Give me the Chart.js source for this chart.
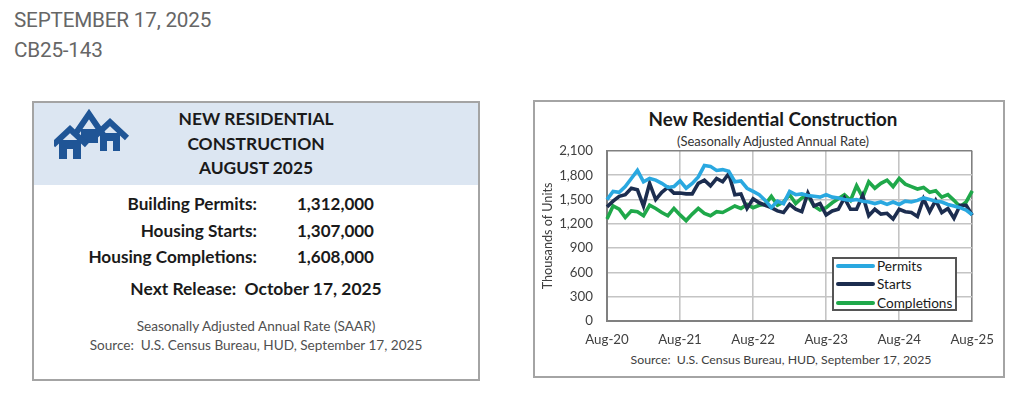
<!DOCTYPE html>
<html><head><meta charset="utf-8">
<script src="https://cdn.jsdelivr.net/npm/chart.js@4.4.1/dist/chart.umd.min.js"></script>
<style>
body{margin:0;background:#fff;width:1024px;height:410px;overflow:hidden;position:relative;font-family:Roboto,sans-serif}
.a{position:absolute}
#d1{left:14px;top:8px;font-size:20.7px;color:#666;letter-spacing:-0.2px}
#d2{left:14px;top:38px;font-size:20.7px;color:#666;letter-spacing:-0.2px}
#box{left:32px;top:101px;width:444px;height:276px;border:2px solid #a4a4a4;background:#fff}
#hdr{left:0;top:0;width:444px;height:82px;background:#dce6f2}
.ht{position:absolute;left:0;width:444px;text-align:center;font-family:Lato,sans-serif;font-weight:bold;font-size:17.4px;color:#1a1a1a}
.lb{position:absolute;right:221px;font-family:Lato,sans-serif;font-weight:bold;font-size:17.2px;color:#1a1a1a;white-space:nowrap}
.vl{position:absolute;left:263px;font-family:Lato,sans-serif;font-weight:bold;font-size:17px;color:#1a1a1a}
.ct{position:absolute;left:0;width:444px;text-align:center;font-family:Lato,sans-serif;white-space:nowrap}
#cbox{left:533px;top:100px;width:468px;height:274px;border:2px solid #a4a4a4;background:#fff}
#ctitle{left:533px;top:107px;width:480px;text-align:center;font-family:Lato,sans-serif;font-weight:bold;font-size:18.8px;color:#1a1a1a}
#csub{left:533px;top:133px;width:480px;text-align:center;font-family:Lato,sans-serif;font-size:13px;color:#333}
#csrc{left:545px;top:352px;width:472px;text-align:center;font-family:Lato,sans-serif;font-size:12.3px;color:#404040}
#cv{left:535px;top:129px}
#leg{left:832px;top:257px;width:121px;height:50px;border:2px solid #555;background:#fff;font-family:Lato,sans-serif;font-size:13.6px;color:#1a1a1a;overflow:hidden}
.li{position:absolute;left:2px;height:18px;display:flex;align-items:center;white-space:nowrap}
.ls{width:39px;height:4px;border-radius:2px;margin-right:2px}
</style></head><body>
<div class="a" id="d1">SEPTEMBER 17, 2025</div>
<div class="a" id="d2">CB25-143</div>

<div class="a" id="box">
  <div class="a" id="hdr">
    <svg class="a" style="left:20px;top:4px" width="78" height="56" viewBox="0 0 78 56">
      <g fill="#1f5596" stroke="#1f5596">
        <polyline points="20,29 35,7 50,29" fill="none" stroke-width="6" stroke-linejoin="miter"/>
        <rect x="27" y="22" width="17" height="14" stroke="none"/>
        <polyline points="39,31 56,15 73,31" fill="none" stroke-width="6"/>
        <rect x="46" y="26" width="20" height="18" stroke="none"/>
        <rect x="53" y="34" width="6" height="10" fill="#dce6f2" stroke="none"/>
        <polyline points="-1,38 16,22 33,38" fill="none" stroke-width="6"/>
        <rect x="5" y="33" width="22" height="19" stroke="none"/>
        <rect x="13" y="42" width="6" height="10" fill="#dce6f2" stroke="none"/>
      </g>
    </svg>
    <div class="ht" style="top:5px">NEW RESIDENTIAL</div>
    <div class="ht" style="top:30px">CONSTRUCTION</div>
    <div class="ht" style="top:54px">AUGUST 2025</div>
  </div>
  <div class="lb" style="top:90px">Building Permits:</div><div class="vl" style="top:90px">1,312,000</div>
  <div class="lb" style="top:117px">Housing Starts:</div><div class="vl" style="top:117px">1,307,000</div>
  <div class="lb" style="top:143px">Housing Completions:</div><div class="vl" style="top:143px">1,608,000</div>
  <div class="ct" style="top:175px;font-weight:bold;font-size:17.4px;color:#1a1a1a">Next Release:&nbsp; October 17, 2025</div>
  <div class="ct" style="top:215px;font-size:13.6px;color:#505050">Seasonally Adjusted Annual Rate (SAAR)</div>
  <div class="ct" style="top:234px;font-size:13.6px;color:#505050">Source:&nbsp; U.S. Census Bureau, HUD, September 17, 2025</div>
</div>

<div class="a" id="cbox"></div>
<div class="a" id="ctitle">New Residential Construction</div>
<div class="a" id="csub">(Seasonally Adjusted Annual Rate)</div>
<canvas class="a" id="cv" width="470" height="221" style="width:470px;height:221px"></canvas>
<div class="a" id="leg"></div>
<div class="a" id="csrc">Source:&nbsp; U.S. Census Bureau, HUD, September 17, 2025</div>

<script>
const months = [
 'Aug-20','Sep-20','Oct-20','Nov-20','Dec-20',
 'Jan-21','Feb-21','Mar-21','Apr-21','May-21','Jun-21','Jul-21','Aug-21','Sep-21','Oct-21','Nov-21','Dec-21',
 'Jan-22','Feb-22','Mar-22','Apr-22','May-22','Jun-22','Jul-22','Aug-22','Sep-22','Oct-22','Nov-22','Dec-22',
 'Jan-23','Feb-23','Mar-23','Apr-23','May-23','Jun-23','Jul-23','Aug-23','Sep-23','Oct-23','Nov-23','Dec-23',
 'Jan-24','Feb-24','Mar-24','Apr-24','May-24','Jun-24','Jul-24','Aug-24','Sep-24','Oct-24','Nov-24','Dec-24',
 'Jan-25','Feb-25','Mar-25','Apr-25','May-25','Jun-25','Jul-25','Aug-25'];
const tickMonths = ['Aug-20','Aug-21','Aug-22','Aug-23','Aug-24','Aug-25'];
const seriesNames = ['Permits','Starts','Completions'];
const seriesColors = ['#2aa8e0','#1c2d4f','#1fa84a'];
const permits = [1500,1600,1590,1660,1760,1860,1720,1760,1740,1700,1650,1660,1730,1640,1700,1780,1920,
 1910,1860,1870,1850,1720,1730,1640,1600,1560,1490,1400,1480,
 1450,1600,1560,1570,1550,1540,1530,1560,1530,1520,1500,1490,
 1500,1480,1470,1450,1470,1440,1470,1440,1480,1470,1490,1520,
 1500,1480,1470,1440,1420,1400,1370,1312];
const starts = [1410,1480,1540,1560,1640,1620,1420,1700,1500,1590,1650,1580,1580,1570,1570,1700,1740,
 1670,1760,1720,1820,1560,1570,1390,1510,1460,1430,1400,1360,
 1340,1440,1380,1350,1580,1420,1450,1310,1360,1380,1520,1380,
 1380,1550,1300,1380,1320,1330,1260,1380,1350,1340,1290,1510,
 1350,1490,1340,1390,1270,1430,1430,1307];
const completions = [1260,1420,1380,1280,1360,1350,1300,1430,1390,1340,1300,1390,1310,1240,1320,1390,1330,
 1300,1350,1340,1380,1420,1390,1440,1400,1430,1440,1540,1430,
 1470,1560,1450,1520,1550,1420,1370,1400,1460,1510,1560,1490,
 1670,1530,1720,1640,1700,1740,1660,1760,1690,1660,1630,1650,
 1590,1610,1530,1560,1490,1410,1470,1608];
const yTicks = {min:0, max:2100, step:300};

const seriesData = [permits, starts, completions];

// HTML legend built from names/colors
const leg = document.getElementById('leg');
seriesNames.forEach((n,i)=>{
  const r = document.createElement('div');
  r.className='li'; r.style.top=(-2+i*18.4)+'px';
  r.innerHTML='<span class="ls" style="background:'+seriesColors[i]+'"></span><span>'+n+'</span>';
  leg.appendChild(r);
});

const font = {family:'Lato, sans-serif', size:13.3};
const last = months.length-1;
new Chart(document.getElementById('cv'), {
  type:'line',
  data:{
    labels: months,
    datasets: seriesNames.map((n,i)=>({
      label:n, data:seriesData[i], borderColor:seriesColors[i], backgroundColor:seriesColors[i],
      borderWidth:3.6, pointRadius:0, tension:0, fill:false
    }))
  },
  options:{
    responsive:false, animation:false, devicePixelRatio:1,
    layout:{padding:{left:2,right:21,top:0,bottom:3}},
    plugins:{legend:{display:false}, tooltip:{enabled:false}},
    scales:{
      x:{
        type:'category', offset:false,
        afterFit:s=>{s.height=26;},
        grid:{drawTicks:false, lineWidth:1.6,
          color:c=> (c.index===last ? '#808080' : (tickMonths.includes(months[c.index]) ? '#c4c4c4' : 'rgba(0,0,0,0)'))},
        border:{display:true,color:'#808080',width:2},
        ticks:{autoSkip:false,maxRotation:0,padding:11,color:'#404040',font,
          callback:(v,i)=> tickMonths.includes(months[i]) ? months[i] : ''}
      },
      y:{
        min:yTicks.min, max:yTicks.max,
        afterFit:s=>{s.width=70;},
        grid:{drawTicks:false, lineWidth:1.6,
          color:c=> c.tick && c.tick.value===yTicks.max ? '#808080' : '#c4c4c4'},
        border:{display:true,color:'#808080',width:2},
        ticks:{stepSize:yTicks.step,padding:14,color:'#404040',font},
        title:{display:true,text:'Thousands of Units',color:'#404040',font:{family:'Lato, sans-serif',size:12.6},padding:{top:3,bottom:0}}
      }
    }
  }
});
</script>
</body></html>
